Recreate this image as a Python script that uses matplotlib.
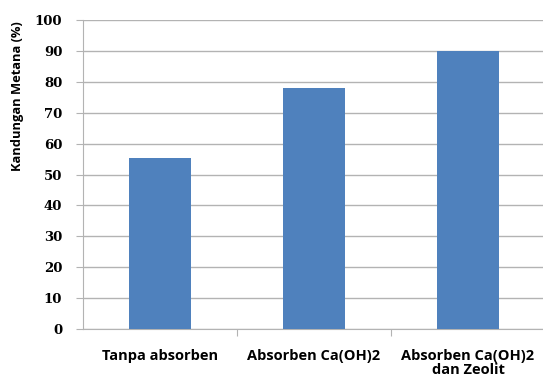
import matplotlib
matplotlib.use("Agg")
import matplotlib.pyplot as plt

categories = ["Tanpa absorben", "Absorben Ca(OH)2", "Absorben Ca(OH)2\ndan Zeolit"]
methane = [55.3, 78.0, 90.0]
yticks = list(range(0, 101, 10))

BAR_COLOR = "#4f81bd"
GRID_COLOR = "#b3b3b3"

fig = plt.figure(figsize=(5.43, 3.77), dpi=100)
ax = fig.add_axes([83 / 543, 48 / 377, 462 / 543, 309 / 377])

ax.bar(range(len(categories)), methane, width=0.4, color=BAR_COLOR, zorder=3)
ax.set_xlim(-0.5, len(categories) - 0.5)
ax.set_ylim(0, 100)

ax.set_yticks(yticks)
ax.set_yticklabels([str(v) for v in yticks], family="DejaVu Serif",
                   fontweight="bold", fontsize=9.5)
ax.yaxis.grid(True, color=GRID_COLOR, linewidth=1.0, zorder=0)
ax.tick_params(axis="y", length=5, color=GRID_COLOR, pad=10)

ax.set_xticks([0.5, 1.5])
ax.set_xticklabels([])
ax.tick_params(axis="x", length=5, color=GRID_COLOR)
for i, lab in enumerate(categories):
    ax.text(i, -6.5, lab, ha="center", va="top", fontsize=10.5,
            family="Open Sans", fontweight="bold", transform=ax.transData,
            linespacing=0.95)

for side in ("top", "right"):
    ax.spines[side].set_visible(False)
ax.spines["left"].set_color(GRID_COLOR)
ax.spines["bottom"].set_color(GRID_COLOR)

fig.text(18 / 543, 1 - 96 / 377, "Kandungan Metana (%)", rotation=90,
         ha="center", va="center", fontsize=9.3, family="Open Sans",
         fontweight="bold")

fig.savefig("out.png", dpi=100)
